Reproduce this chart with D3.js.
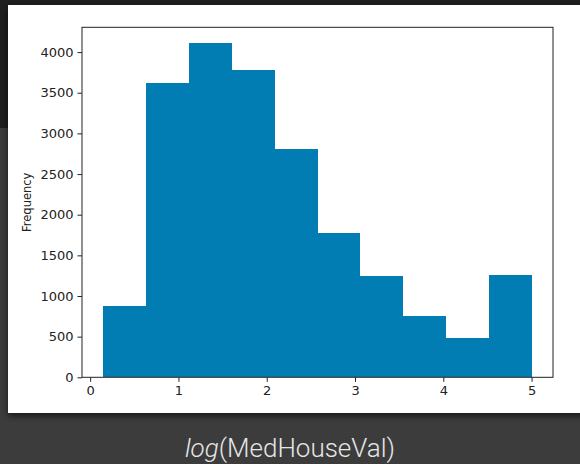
<!DOCTYPE html>
<html>
<head>
<meta charset="utf-8">
<script src="https://d3js.org/d3.v7.min.js"></script>
<style>
  body { margin: 0; background: #3c3c3c; }
  svg { display: block; }
  .tick text { font-family: 'DejaVu Sans', sans-serif; font-size: 13px; fill: #222; }
</style>
</head>
<body>
<svg width="580" height="464"></svg>
<script>
// Histogram data: bin edges and counts
const binEdges = [0.15, 0.635, 1.12, 1.605, 2.09, 2.575, 3.06, 3.545, 4.03, 4.515, 5.0];
const counts = [872, 3618, 4108, 3785, 2802, 1773, 1244, 752, 484, 1255];
const xTicks = [0, 1, 2, 3, 4, 5];
const yTicks = [0, 500, 1000, 1500, 2000, 2500, 3000, 3500, 4000];

const svg = d3.select('svg'),
  width = +svg.attr('width'),
  height = +svg.attr('height');

// page background
svg.append('rect')
  .attr('width', width)
  .attr('height', height)
  .attr('fill', '#3c3c3c');
svg.append('rect')
  .attr('width', width)
  .attr('height', 128)
  .attr('fill', '#1e1e1e');

// card shadow
const defs = svg.append('defs');
const shadow = defs.append('filter')
  .attr('id', 'shadow')
  .attr('x', '-5%').attr('y', '-5%')
  .attr('width', '110%').attr('height', '115%');
shadow.append('feDropShadow')
  .attr('dx', 0).attr('dy', 3)
  .attr('stdDeviation', 3)
  .attr('flood-color', '#000')
  .attr('flood-opacity', 0.6);

svg.append('rect')
  .attr('x', 8)
  .attr('y', 5)
  .attr('width', 580)
  .attr('height', 408)
  .attr('fill', '#fff')
  .attr('filter', 'url(#shadow)');

// axes box
const mLeft = 82, mRight = 553, mTop = 27.3, mBottom = 377.3;

const x = d3.scaleLinear()
  .domain([-0.0925, 5.2425])
  .range([mLeft, mRight]);
const y = d3.scaleLinear()
  .domain([0, 4305])
  .range([mBottom, mTop]);

// bars
svg.append('g')
  .selectAll('rect')
  .data(counts)
  .enter()
  .append('rect')
  .attr('x', (d, i) => x(binEdges[i]))
  .attr('width', (d, i) => x(binEdges[i + 1]) - x(binEdges[i]))
  .attr('y', d => y(d))
  .attr('height', d => y(0) - y(d))
  .attr('fill', '#027db4')
  .attr('shape-rendering', 'crispEdges');

// axes
const gx = svg.append('g')
  .attr('transform', `translate(0, ${mBottom})`)
  .call(d3.axisBottom(x).tickValues(xTicks).tickFormat(d3.format('d')).tickSize(4.5).tickPadding(4));
const gy = svg.append('g')
  .attr('transform', `translate(${mLeft}, 0)`)
  .call(d3.axisLeft(y).tickValues(yTicks).tickFormat(d3.format('d')).tickSize(4.5).tickPadding(4));
gx.select('.domain').remove();
gy.select('.domain').remove();
svg.selectAll('.tick line').attr('stroke', '#222').attr('stroke-width', 1);

// spines
svg.append('rect')
  .attr('x', mLeft)
  .attr('y', mTop)
  .attr('width', mRight - mLeft)
  .attr('height', mBottom - mTop)
  .attr('fill', 'none')
  .attr('stroke', '#222')
  .attr('stroke-width', 1);

// y label
svg.append('text')
  .attr('transform', `translate(31, ${(mTop + mBottom) / 2}) rotate(-90)`)
  .attr('text-anchor', 'middle')
  .style('font-family', 'DejaVu Sans, sans-serif')
  .style('font-size', '11.5px')
  .style('fill', '#222')
  .text('Frequency');

// caption below the card
const caption = svg.append('text')
  .attr('x', width / 2)
  .attr('y', 457)
  .attr('text-anchor', 'middle')
  .style('font-family', 'Roboto, sans-serif')
  .style('font-size', '26px')
  .style('font-weight', 300)
  .style('fill', '#e6e6e6');
caption.append('tspan').style('font-style', 'italic').text('log');
caption.append('tspan').text('(MedHouseVal)');
</script>
</body>
</html>
